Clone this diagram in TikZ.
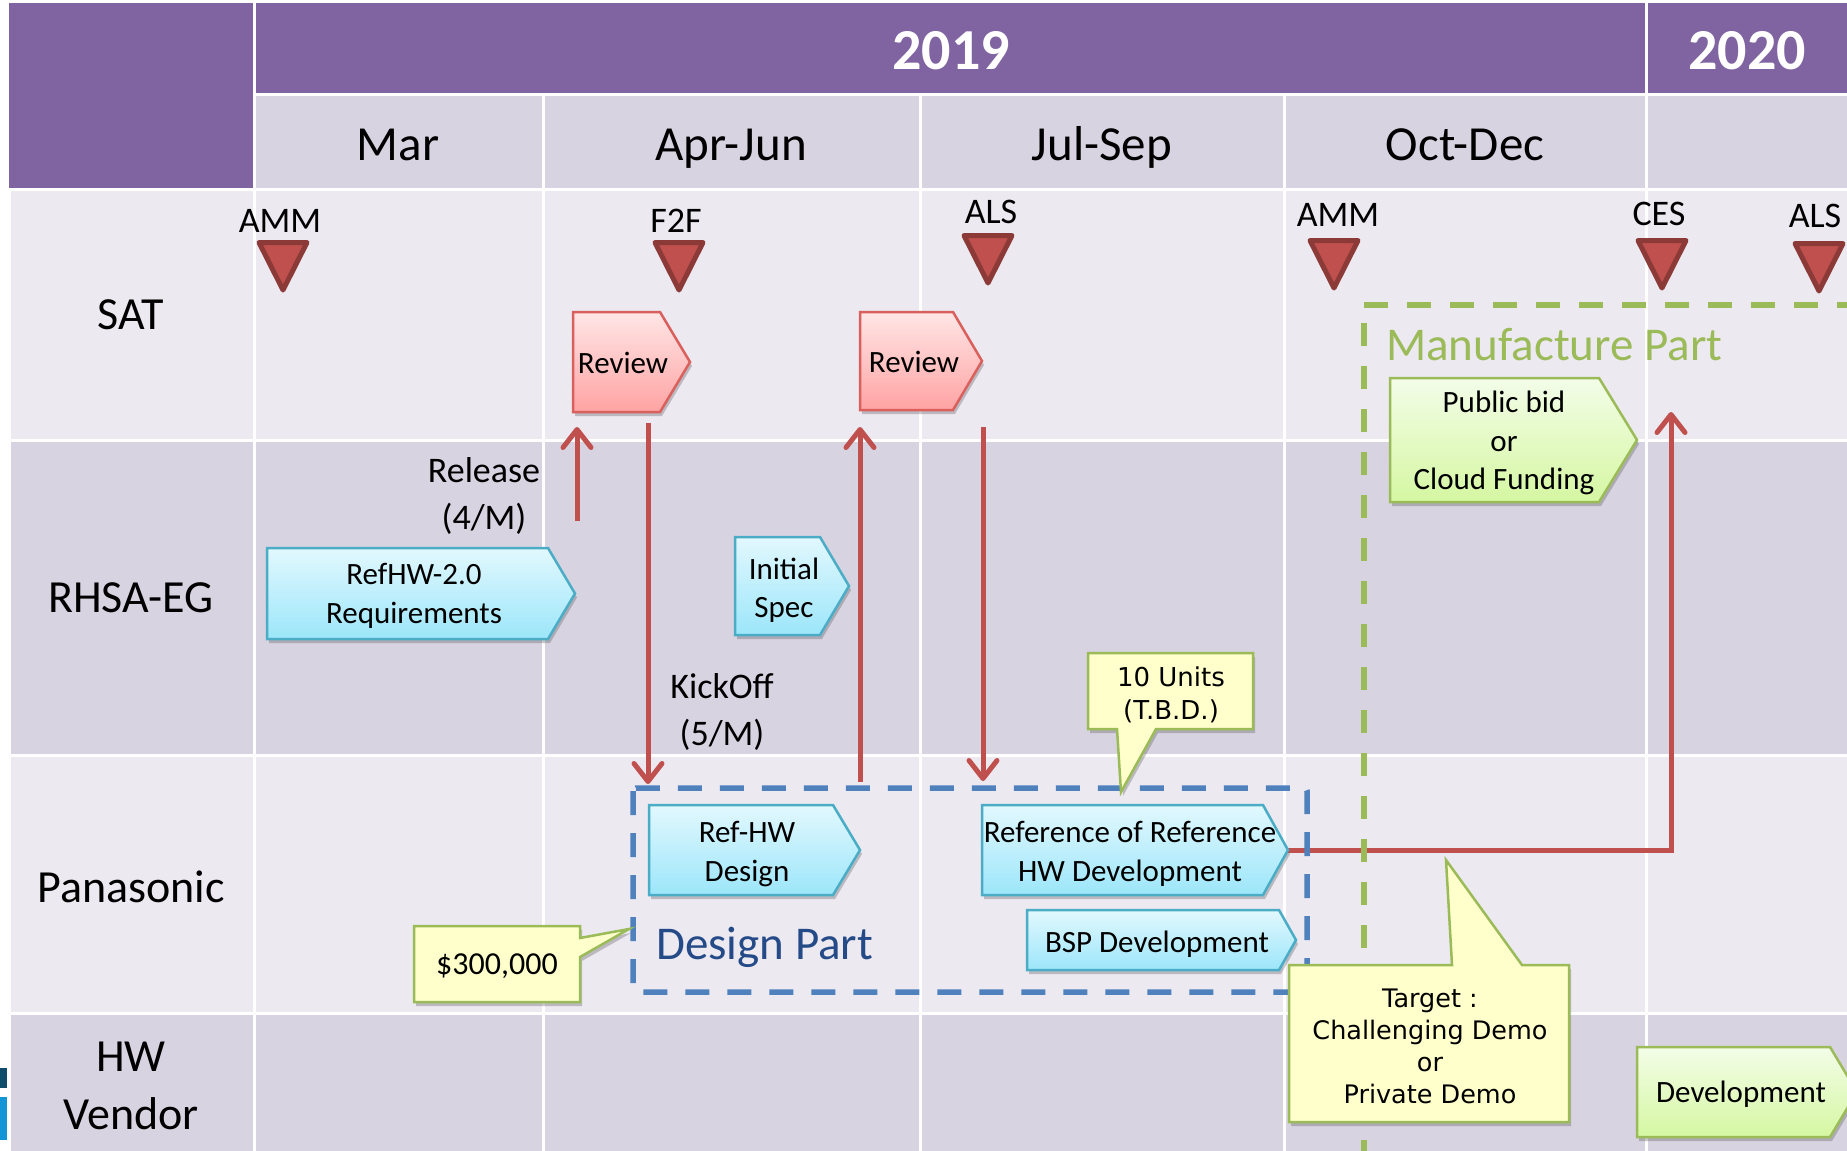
\documentclass[tikz,border=0pt]{standalone}
\usepackage{fontspec}
\setmainfont{Carlito}
\newfontfamily\dejavu{DejaVu Sans}
\usetikzlibrary{arrows.meta,shadows}

\definecolor{hdr}{HTML}{8064A2}
\definecolor{bandD}{HTML}{D8D3E1}
\definecolor{bandL}{HTML}{ECE9F1}
\definecolor{redA}{HTML}{C0504D}
\definecolor{redB}{HTML}{8C3A38}
\definecolor{blueD}{HTML}{4F81BD}
\definecolor{greenD}{HTML}{9BBB59}
\definecolor{dpart}{HTML}{254A88}
\definecolor{pinkT}{HTML}{FFE6E6}
\definecolor{pinkBo}{HTML}{FFA3A3}
\definecolor{pinkLn}{HTML}{D9605C}
\definecolor{cyanT}{HTML}{E2F8FE}
\definecolor{cyanBo}{HTML}{9CE6FA}
\definecolor{cyanLn}{HTML}{4BACC6}
\definecolor{grnT}{HTML}{F3FDE8}
\definecolor{grnBo}{HTML}{D5F7A2}
\definecolor{yel}{HTML}{FFFFCC}
\definecolor{logoA}{HTML}{0F4C6A}
\definecolor{logoB}{HTML}{1495D6}

\newcommand\fs[2]{\fontsize{#1}{#2}\selectfont}

% #1 name, #2 style, #3 x1, #4 y1, #5 x tip, #6 y2, #7 depth, #8 text centre, #9 text
\newcommand\hplate[9]{%
  \path[#2] (#3,#4) -- ({#5-#7},#4) -- (#5,{(#4+#6)/2}) -- ({#5-#7},#6) -- (#3,#6) -- cycle;
  \node[boxtxt] (#1) at #8 {#9};
}
% #1 name, #2 cx, #3 ytop, #4 label, #5 label x, #6 label baseline
\newcommand\mstone[6]{%
  \path[mtri] ({#2-24},{#3+2.5}) -- ({#2+24},{#3+2.5}) -- (#2,{#3+50}) -- cycle;
  \node[mlab] (#1) at (#5,#6) {#4};
}

\begin{document}
\begin{tikzpicture}[x=1pt,y=-1pt,
  shd/.style={drop shadow={shadow xshift=2pt,shadow yshift=-4pt,opacity=0.3,fill=black!70}},
  pink/.style={draw=pinkLn,line width=2.5pt,top color=pinkT,bottom color=pinkBo,shd},
  cyan/.style={draw=cyanLn,line width=2.5pt,top color=cyanT,bottom color=cyanBo,shd},
  grn/.style={draw=greenD,line width=2.5pt,top color=grnT,bottom color=grnBo,shd},
  callout/.style={draw=greenD,line width=2.5pt,fill=yel,line join=miter,shd},
  boxtxt/.style={font=\fs{31}{38.5},align=center,inner sep=0pt},
  mtri/.style={fill=redA,draw=redB,line width=5pt,line join=round},
  mlab/.style={font=\fs{36}{42},anchor=base,inner sep=0pt},
  rowlab/.style={font=\fs{46}{57.5},align=center,inner sep=0pt},
  monlab/.style={font=\fs{49}{58},anchor=base,inner sep=0pt},
  yearlab/.style={font=\fs{58}{66}\bfseries,text=white,anchor=base,inner sep=0pt},
  lbl/.style={font=\fs{36}{47},align=center,inner sep=0pt},
  rarrow/.style={draw=redA,line width=5pt,-{Straight Barb[length=18pt,width=28pt,line cap=round,line join=round]}}
]
\useasboundingbox (0,0) rectangle (1847,1151);
\clip (0,0) rectangle (1847,1151);
\fill[white] (0,0) rectangle (1847,1151);

% ---------- table background ----------
\fill[hdr] (9,3) rectangle (252.5,187.5);
\fill[hdr] (255.5,3) rectangle (1644.5,93);
\fill[hdr] (1647.5,3) rectangle (1870,93);
\foreach \a/\b in {254/543,543/920,920/1284,1284/1646,1646/1870}
  \fill[bandD] ({\a+1.5},96) rectangle ({\b-1.5},187.5);
\foreach \ya/\yb/\c in {189/440/bandL,440/755/bandD,755/1013/bandL,1013/1170/bandD}
  \foreach \a/\b in {9/254,254/543,543/920,920/1284,1284/1646,1646/1870}
    \fill[\c] ({\a+1.5},{\ya+1.5}) rectangle ({\b-1.5},{\yb-1.5});

% partial logo at the left edge
\fill[logoA] (0,1068) rectangle (7,1088);
\fill[logoB] (0,1097) rectangle (7,1140);

% ---------- header texts ----------
\node[yearlab] (y2019) at (951,69) {2019};
\node[yearlab] (y2020) at (1747,69) {2020};
\node[monlab] (mMar) at (398,160) {Mar};
\node[monlab] (mAJ) at (731,160) {Apr-Jun};
\node[monlab] (mJS) at (1102,160) {Jul-Sep};
\node[monlab] (mOD) at (1465,160) {Oct-Dec};

% ---------- row labels ----------
\node[rowlab] (rSAT) at (131,315) {SAT};
\node[rowlab] (rRHSA) at (131,598) {RHSA-EG};
\node[rowlab] (rPan) at (131,887) {Panasonic};
\node[rowlab] (rHW) at (131,1086) {HW\\Vendor};

% ---------- milestones ----------
\mstone{amm1}{283}{240}{AMM}{280}{232}
\mstone{f2f}{679}{240}{F2F}{676}{232}
\mstone{als1}{988}{233}{ALS}{991}{223}
\mstone{amm2}{1334}{238}{AMM}{1338}{226}
\mstone{ces}{1662}{238}{CES}{1659}{225}
\mstone{als2}{1819}{241}{ALS}{1815}{227}

% ---------- labels ----------
\node[lbl] (release) at (484,496) {Release\\(4/M)};
\node[lbl] (kickoff) at (722,712) {KickOff\\(5/M)};

% ---------- red connectors ----------
\coordinate (relS) at (577,521);  \coordinate (relE) at (577,427);
\coordinate (kickS) at (648,423); \coordinate (kickE) at (648,784);
\coordinate (upS) at (860,782);   \coordinate (upE) at (860,427);
\coordinate (dnS) at (983,427);   \coordinate (dnE) at (983,781);
\coordinate (rrTip) at (1288,850); \coordinate (mfE) at (1671,412);
\draw[rarrow] (relS) -- (relE);
\draw[rarrow] (kickS) -- (kickE);
\draw[rarrow] (upS) -- (upE);
\draw[rarrow] (dnS) -- (dnE);
\draw[rarrow] (rrTip) -| (mfE);

% ---------- dashed parts ----------
\draw[blueD,line width=5.5pt,dash pattern=on 24pt off 18pt,rounded corners=3pt] (633,788) rectangle (1307,992);
\node[font=\fs{47}{56},text=dpart,anchor=base west,inner sep=0pt] (designpart) at (656,959) {Design Part};
\draw[greenD,line width=6pt,dash pattern=on 24pt off 19pt] (1364,305) -- (1900,305);
\draw[greenD,line width=6pt,dash pattern=on 23pt off 20pt] (1364,323) -- (1364,1200);
\node[font=\fs{47}{56},text=greenD,anchor=base west,inner sep=0pt] (manupart) at (1386,360) {Manufacture Part};

% ---------- process boxes ----------
\hplate{rev1}{pink}{573}{312}{690}{412}{30}{(623,363)}{Review}
\hplate{rev2}{pink}{860}{312}{982}{410}{29}{(914,362)}{Review}
\hplate{req}{cyan}{267}{548}{575}{639}{27}{(414,596)}{RefHW-2.0\\Requirements}
\hplate{spec}{cyan}{735}{537}{849}{635}{29}{(784,590)}{Initial\\Spec}
\hplate{refhw}{cyan}{649}{805}{860}{895}{27}{(747,854)}{Ref-HW\\Design}
\hplate{rr}{cyan}{982}{805}{1288}{895}{25}{(1130,854)}{Reference of Reference\\HW Development}
\hplate{bsp}{cyan}{1027}{910}{1296}{970}{17}{(1157,944)}{BSP Development}
\hplate{bid}{grn}{1390}{378}{1637}{502}{38}{(1504,443)}{Public bid\\or\\Cloud Funding}
\hplate{dev}{grn}{1637}{1047}{1857}{1137}{27}{(1741,1094)}{Development}

% ---------- callouts ----------
\path[callout] (414,926) -- (580,926) -- (580,938) -- (629,929) -- (580,957) -- (580,1002) -- (414,1002) -- cycle;
\node[font=\fs{32}{38},inner sep=0pt] (money) at (497,966) {\$300,000};
\path[callout] (1088,653) -- (1253,653) -- (1253,729) -- (1156,729) -- (1121,792) -- (1117,729) -- (1088,729) -- cycle;
\node[font=\dejavu\fs{26}{33},align=center,inner sep=0pt] (units) at (1171,695) {10 Units\\(T.B.D.)};
\path[callout] (1289,965) -- (1452,965) -- (1446,860) -- (1522,965) -- (1569,965) -- (1569,1122) -- (1289,1122) -- cycle;
\node[font=\dejavu\fs{25.5}{32},align=center,inner sep=0pt] (target) at (1430,1046) {Target :\\Challenging Demo\\or\\Private Demo};
\end{tikzpicture}
\end{document}
